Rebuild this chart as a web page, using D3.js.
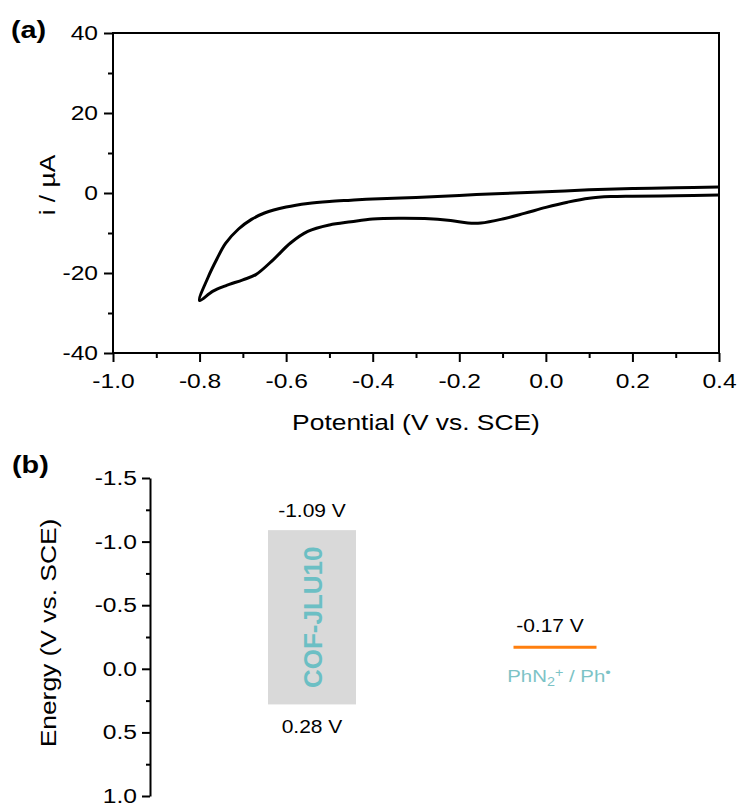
<!DOCTYPE html>
<html>
<head>
<meta charset="utf-8">
<script src="https://cdn.jsdelivr.net/npm/d3@7"></script>
<style>
  html, body { margin: 0; padding: 0; background: #fff; }
  svg { display: block; font-family: "Liberation Sans", Arial, sans-serif; }
</style>
</head>
<body>
<svg id="chart" width="740" height="807"></svg>
<script>
// ---- Panel (a): cyclic voltammogram ----
// cathodic sweep, 0.4 V -> -0.8 V
const cathodicV = [0.40, 0.30, 0.20, 0.15, 0.10, 0.05, 0.00, -0.05, -0.10, -0.15, -0.18, -0.22, -0.28, -0.34, -0.40, -0.45, -0.50, -0.55, -0.59, -0.63, -0.67, -0.70, -0.74, -0.77, -0.80];
const cathodicI = [-0.5, -0.7, -0.8, -0.9, -1.3, -2.3, -3.6, -5.1, -6.5, -7.5, -7.5, -6.9, -6.4, -6.3, -6.5, -7.2, -8.0, -9.6, -12.5, -16.7, -20.4, -21.7, -23.2, -24.6, -26.9];
// anodic sweep, -0.8 V -> 0.4 V
const anodicV = [-0.80, -0.78, -0.76, -0.74, -0.71, -0.68, -0.65, -0.60, -0.55, -0.50, -0.45, -0.40, -0.30, -0.20, -0.10, 0.00, 0.10, 0.20, 0.30, 0.40];
const anodicI = [-26.9, -21.0, -16.5, -12.6, -9.0, -6.6, -5.0, -3.5, -2.6, -2.1, -1.8, -1.5, -1.1, -0.6, -0.1, 0.3, 0.8, 1.1, 1.3, 1.5];

const cvXTicks = [-1.0, -0.8, -0.6, -0.4, -0.2, 0.0, 0.2, 0.4];
const cvXMinor = [-0.9, -0.7, -0.5, -0.3, -0.1, 0.1, 0.3];
const cvYTicks = [-40, -20, 0, 20, 40];
const cvYMinor = [-30, -10, 10, 30];

// ---- Panel (b): energy levels ----
const levelNames = ["COF-JLU10", "PhN2+/Ph•"];
const cofTop = -1.09;       // V vs. SCE
const cofBottom = 0.28;     // V vs. SCE
const radicalLevel = -0.17; // V vs. SCE
const energyTicks = [-1.5, -1.0, -0.5, 0.0, 0.5, 1.0];
const energyMinor = [-1.25, -0.75, -0.25, 0.25, 0.75];

const loc = d3.formatLocale({decimal: ".", thousands: ",", grouping: [3], currency: ["", ""], minus: "-"});
const f1 = loc.format(".1f");
const f2 = loc.format(".2f");
const f0 = loc.format("d");

const WIDE = 1.2; // horizontal widening of the lettering
const FONT = '"Liberation Sans", Arial, sans-serif';

const svg = d3.select("#chart");

// place a text element at (x, y), optionally rotated, widened along its reading direction
function label(g, x, y, str, opts = {}) {
  const rot = opts.rotate ? ` rotate(${opts.rotate})` : "";
  const sx = opts.wide === false ? 1 : WIDE;
  return g.append("text")
    .attr("transform", `translate(${x},${y})${rot} scale(${sx},1)`)
    .attr("text-anchor", opts.anchor || "middle")
    .attr("fill", opts.fill || "#000")
    .style("font-family", FONT)
    .style("font-size", (opts.size || 20) + "px")
    .style("font-weight", opts.bold ? "bold" : "normal")
    .text(str);
}

function styleAxis(g, fontSize) {
  g.select(".domain").remove();
  g.selectAll(".tick line").attr("stroke", "#000").attr("stroke-width", 2);
  g.selectAll(".tick text").each(function () {
    const t = d3.select(this);
    const tx = +t.attr("x") || 0, ty = +t.attr("y") || 0;
    t.attr("x", 0).attr("y", 0)
      .attr("transform", `translate(${tx},${ty}) scale(${WIDE},1)`)
      .attr("fill", "#000")
      .style("font-size", fontSize + "px")
      .style("font-family", FONT);
  });
}

// ===== Panel (a) =====
const a = {left: 113, right: 719, top: 33, bottom: 353};
const x = d3.scaleLinear().domain([-1.0, 0.4]).range([a.left, a.right]);
const y = d3.scaleLinear().domain([-40, 40]).range([a.bottom, a.top]);

const gA = svg.append("g");

gA.append("rect")
  .attr("x", a.left).attr("y", a.top)
  .attr("width", a.right - a.left).attr("height", a.bottom - a.top)
  .attr("fill", "none").attr("stroke", "#000").attr("stroke-width", 2);

const xAxis = gA.append("g").attr("transform", `translate(0,${a.bottom})`)
  .call(d3.axisBottom(x).tickValues(cvXTicks).tickFormat(f1).tickSize(9).tickPadding(11));
styleAxis(xAxis, 20.5);
const xMinor = gA.append("g").attr("transform", `translate(0,${a.bottom})`)
  .call(d3.axisBottom(x).tickValues(cvXMinor).tickFormat("").tickSize(5));
styleAxis(xMinor, 20.5);

const yAxis = gA.append("g").attr("transform", `translate(${a.left},0)`)
  .call(d3.axisLeft(y).tickValues(cvYTicks).tickFormat(f0).tickSize(9).tickPadding(6));
styleAxis(yAxis, 20.5);
const yMinor = gA.append("g").attr("transform", `translate(${a.left},0)`)
  .call(d3.axisLeft(y).tickValues(cvYMinor).tickFormat("").tickSize(5));
styleAxis(yMinor, 20.5);

// voltammogram trace
const cvPoints = cathodicV.map((v, i) => [v, cathodicI[i]])
  .concat(anodicV.slice(1).map((v, i) => [v, anodicI[i + 1]]));
const line = d3.line().x(d => x(d[0])).y(d => y(d[1])).curve(d3.curveCatmullRom.alpha(0.5));
gA.append("path")
  .datum(cvPoints)
  .attr("d", line)
  .attr("fill", "none")
  .attr("stroke", "#000")
  .attr("stroke-width", 3)
  .attr("stroke-linejoin", "round");

label(gA, (a.left + a.right) / 2, 430, "Potential (V vs. SCE)", {size: 22});
label(gA, 55, 185, "i / µA", {size: 22, rotate: -90});
label(gA, 11, 38, "(a)", {size: 24, bold: true, anchor: "start"});

// ===== Panel (b) =====
const b = {left: 150, top: 478, bottom: 796};
const e = d3.scaleLinear().domain([-1.5, 1.0]).range([b.top, b.bottom]);
const cat = d3.scalePoint().domain(levelNames).range([312, 555]);

const gB = svg.append("g");

const eAxis = gB.append("g").attr("transform", `translate(${b.left},0)`)
  .call(d3.axisLeft(e).tickValues(energyTicks).tickFormat(f1).tickSize(8).tickPadding(5).tickSizeOuter(0));
const eDomain = eAxis.select(".domain").node().cloneNode(true);
styleAxis(eAxis, 20.5);
eAxis.node().appendChild(eDomain);
d3.select(eDomain).attr("stroke", "#000").attr("stroke-width", 2).attr("fill", "none");
const eMinor = gB.append("g").attr("transform", `translate(${b.left},0)`)
  .call(d3.axisLeft(e).tickValues(energyMinor).tickFormat("").tickSize(4));
styleAxis(eMinor, 20.5);

label(gB, 56, 633, "Energy (V vs. SCE)", {size: 22, rotate: -90});
label(gB, 12, 473, "(b)", {size: 24, bold: true, anchor: "start"});

// COF-JLU10 band
const barW = 88;
const cx = cat("COF-JLU10");
gB.append("rect")
  .attr("x", cx - barW / 2).attr("y", e(cofTop))
  .attr("width", barW).attr("height", e(cofBottom) - e(cofTop))
  .attr("fill", "#d9d9d9");
label(gB, cx + 10, (e(cofTop) + e(cofBottom)) / 2, "COF-JLU10",
  {size: 26, bold: true, rotate: -90, fill: "#6cbfc4", wide: false});
label(gB, cx, e(cofTop) - 13, f2(cofTop) + " V", {size: 17.5});
label(gB, cx, e(cofBottom) + 29, f2(cofBottom) + " V", {size: 17.5});

// PhN2+/Ph• reduction level
const lx = cat("PhN2+/Ph•");
const lineW = 83;
gB.append("line")
  .attr("x1", lx - lineW / 2).attr("x2", lx + lineW / 2)
  .attr("y1", e(radicalLevel)).attr("y2", e(radicalLevel))
  .attr("stroke", "#ff7f0e").attr("stroke-width", 3);
label(gB, lx - 5, e(radicalLevel) - 15, f2(radicalLevel) + " V", {size: 17.5});
const lab = label(gB, lx + 4, e(radicalLevel) + 35, "", {size: 17, fill: "#7cc3c6"});
lab.append("tspan").text("PhN");
lab.append("tspan").attr("baseline-shift", "-30%").style("font-size", "12px").text("2");
lab.append("tspan").attr("baseline-shift", "45%").style("font-size", "12px").text("+");
lab.append("tspan").text(" / Ph");
lab.append("tspan").attr("baseline-shift", "40%").style("font-size", "13px").text("•");
</script>
</body>
</html>
